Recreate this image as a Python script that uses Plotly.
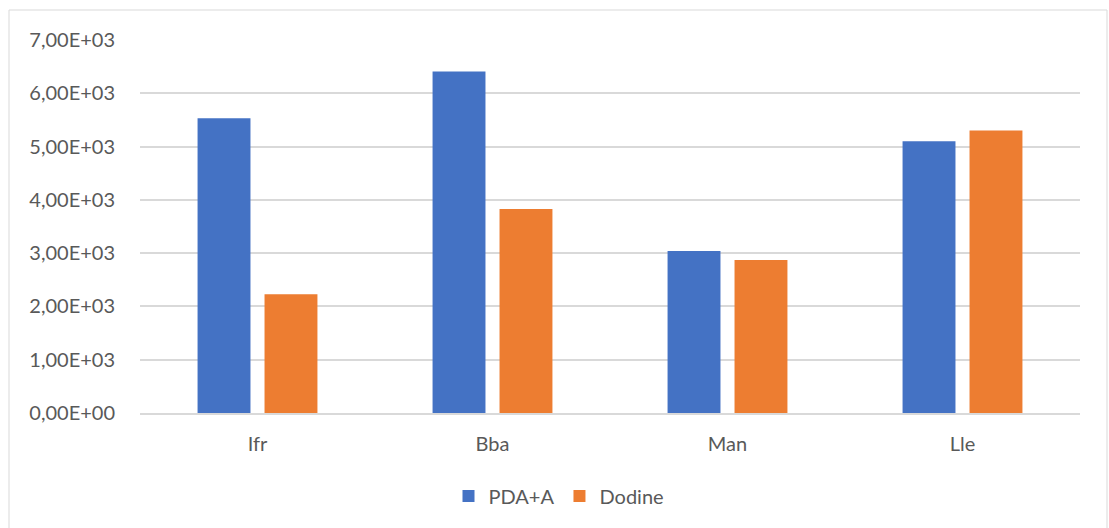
import plotly.graph_objects as go

categories = ["Ifr", "Bba", "Man", "Lle"]
pda_a = [5530, 6410, 3040, 5100]
dodine = [2230, 3830, 2870, 5300]
tick_vals = [0, 1000, 2000, 3000, 4000, 5000, 6000, 7000]
tick_labels = ["0,00E+00", "1,00E+03", "2,00E+03", "3,00E+03",
               "4,00E+03", "5,00E+03", "6,00E+03", "7,00E+03"]

W, H = 1109, 528
L, R, T, B = 140, 29, 40, 115

fig = go.Figure()
fig.add_trace(go.Bar(name="PDA+A", x=categories, y=pda_a,
                     marker=dict(color="#4472C4", line=dict(width=0))))
fig.add_trace(go.Bar(name="Dodine", x=categories, y=dodine,
                     marker=dict(color="#ED7D31", line=dict(width=0))))

font_family = "Lato, 'Open Sans', sans-serif"
fig.update_layout(
    width=W, height=H,
    margin=dict(l=L, r=R, t=T, b=B, pad=0),
    paper_bgcolor="white", plot_bgcolor="white",
    barmode="group", bargap=0.43, bargroupgap=0.21,
    font=dict(family=font_family, size=20, color="#595959"),
    showlegend=True,
    legend=dict(orientation="h", x=(559 - L) / (W - L - R), xanchor="center",
                y=-(496 - (H - B)) / (H - T - B), yanchor="middle",
                font=dict(size=20, color="#595959"),
                itemwidth=30, traceorder="normal"),
    xaxis=dict(showgrid=False, showline=True, linecolor="#D9D9D9", linewidth=1.5,
               ticks="", tickfont=dict(size=20, color="#595959"), ticklabelstandoff=12),
    yaxis=dict(range=[0, 7000], tickvals=tick_vals, ticktext=tick_labels,
               showgrid=True, gridcolor="#D9D9D9", gridwidth=1.5,
               zeroline=False, showline=False, ticks="",
               tickfont=dict(size=20, color="#595959"), ticklabelstandoff=24),
)

# outer chart-area frame
fig.add_shape(type="rect", xref="paper", yref="paper",
              x0=(9 - L) / (W - L - R), x1=(1107 - L) / (W - L - R),
              y0=-(H + 5 - (H - B)) / (H - T - B), y1=((H - B) - 10) / (H - T - B),
              line=dict(color="#D9D9D9", width=1), fillcolor="rgba(0,0,0,0)",
              layer="below")

fig.write_html("out.html")
